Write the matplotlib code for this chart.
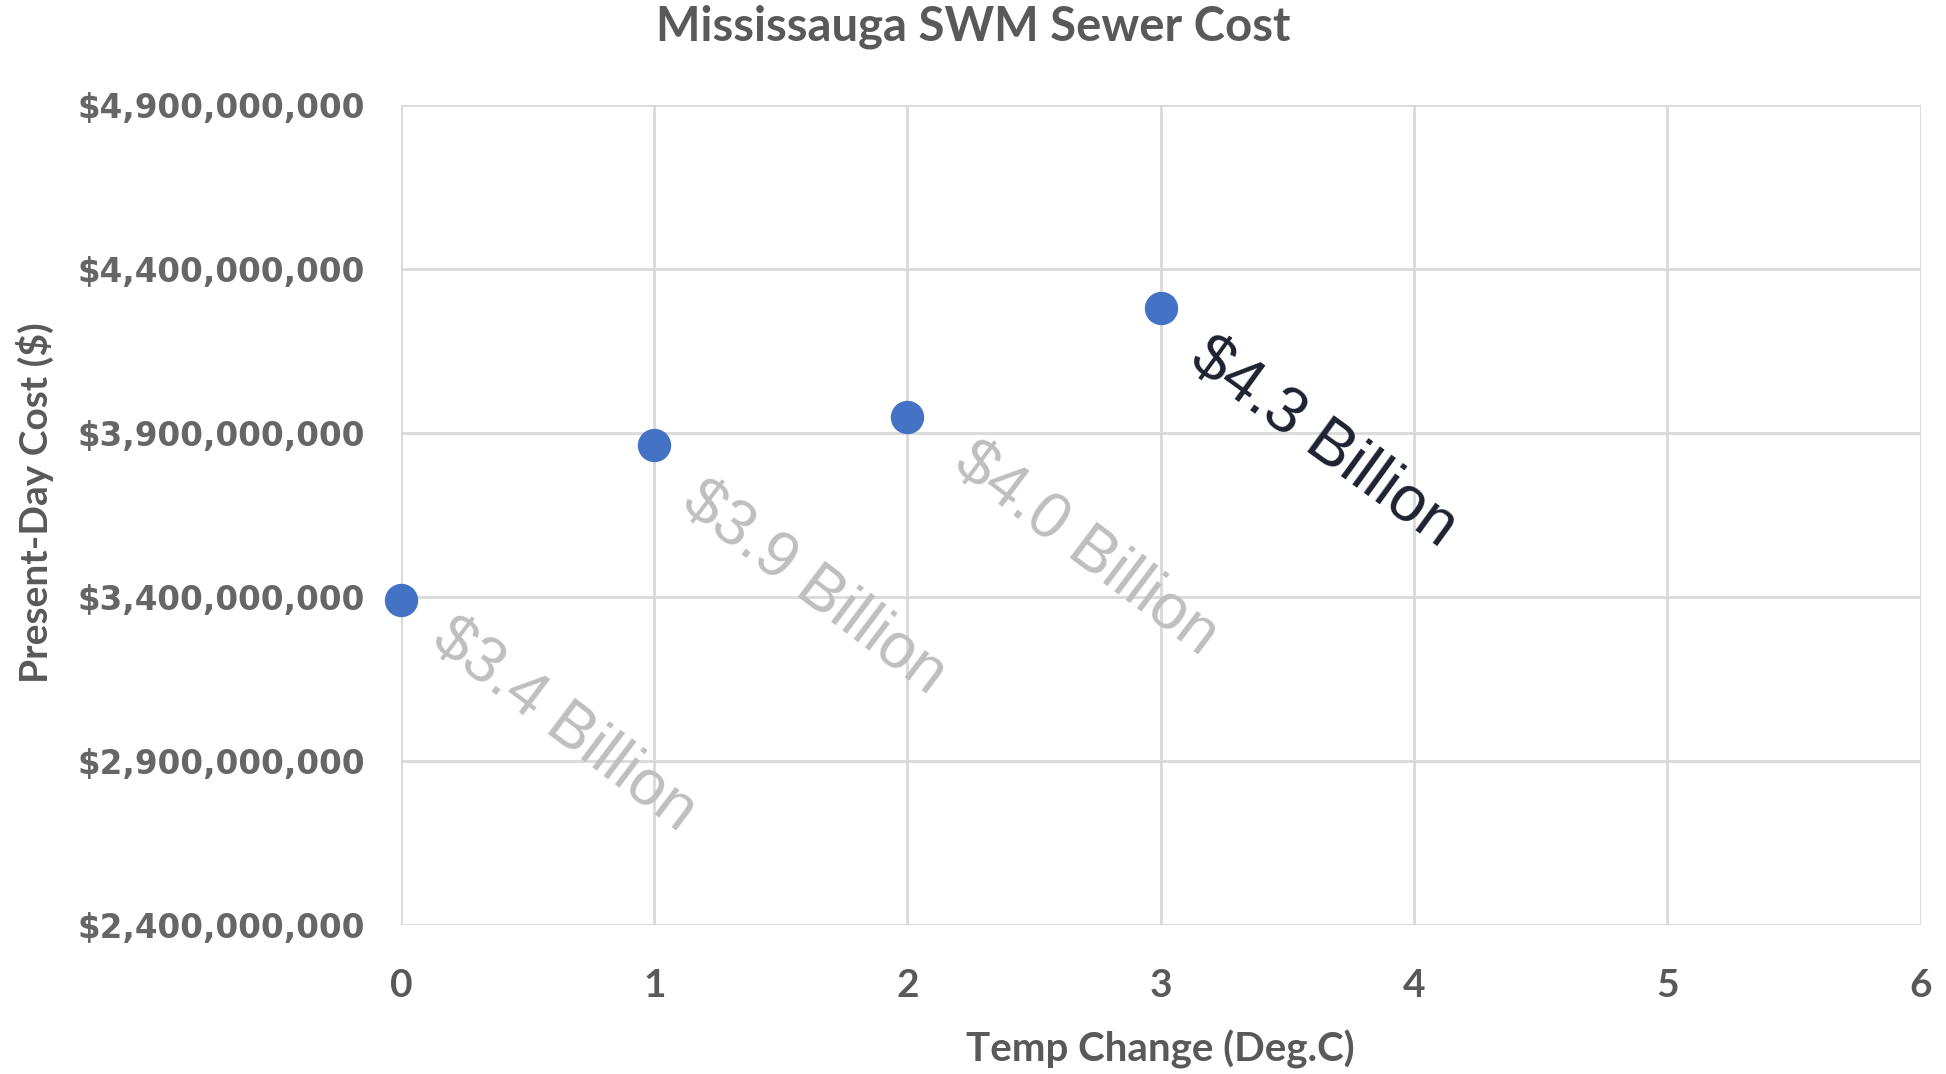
import matplotlib.pyplot as plt
from matplotlib.ticker import StrMethodFormatter

# data
temp_change = [0, 1, 2, 3]
cost = [3.39e9, 3.865e9, 3.95e9, 4.28e9]
labels = ["$3.4 Billion", "$3.9 Billion", "$4.0 Billion", "$4.3 Billion"]
label_colors = ["#bfbfbf", "#bfbfbf", "#bfbfbf", "#1c2230"]
# label offsets from each point, in points
label_offsets = [(41, -5), (39, -18), (52, -10), (39, -13)]
label_angles = [-37, -37, -37, -36]

xticks = [0, 1, 2, 3, 4, 5, 6]
yticks = [2.4e9, 2.9e9, 3.4e9, 3.9e9, 4.4e9, 4.9e9]

narrow = ["Lato", "DejaVu Sans"]
gray = "#595959"

fig = plt.figure(figsize=(19.46, 10.74), dpi=100, facecolor="white")
ax = fig.add_axes([0.206, 0.139, 0.781, 0.763])

ax.scatter(temp_change, cost, s=530, color="#4472c4", zorder=3, clip_on=False)

for x, y, txt, c, off, ang in zip(temp_change, cost, labels, label_colors,
                                  label_offsets, label_angles):
    ax.annotate(txt, (x, y), xytext=off, textcoords="offset points",
                rotation=ang, rotation_mode="anchor", ha="left", va="top",
                fontsize=46, color=c, family=["Liberation Sans", "DejaVu Sans"])

ax.set_xlim(0, 6)
ax.set_ylim(2.4e9, 4.9e9)
ax.set_xticks(xticks)
ax.set_yticks(yticks)
ax.yaxis.set_major_formatter(StrMethodFormatter("${x:,.0f}"))

ax.grid(True, color="#d9d9d9", linewidth=2)
ax.set_axisbelow(True)
for s in ax.spines.values():
    s.set_visible(False)

ax.tick_params(axis="both", length=0)
ax.tick_params(axis="y", pad=26)
ax.tick_params(axis="x", pad=31)
for t in ax.get_yticklabels():
    t.set_fontsize(23.5)
    t.set_fontweight("bold")
    t.set_color("#666666")
    t.set_family("DejaVu Sans")
for t in ax.get_xticklabels():
    t.set_fontsize(28)
    t.set_fontweight("bold")
    t.set_color(gray)
    t.set_family(narrow)

fig.text(0.5, 0.975, "Mississauga SWM Sewer Cost", ha="center", va="center",
         fontsize=34, fontweight="bold", color=gray, family=narrow)
fig.text(0.596, 0.023, "Temp Change (Deg.C)", ha="center", va="center",
         fontsize=29, fontweight="bold", color=gray, family=narrow)
fig.text(0.018, 0.532, "Present-Day Cost ($)", ha="center", va="center",
         rotation=90, fontsize=28, fontweight="bold", color=gray, family=narrow)

fig.savefig("out.png", dpi=100)
